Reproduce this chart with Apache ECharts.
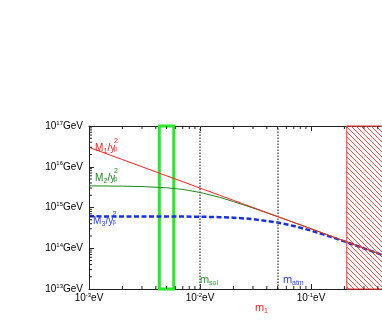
<!DOCTYPE html>
<html><head><meta charset="utf-8">
<script src="https://cdn.jsdelivr.net/npm/echarts@6/dist/echarts.min.js"></script>
<style>html,body{margin:0;padding:0;background:#fff}#c{width:382px;height:327px}</style>
</head><body><div id="c"></div>
<script>
// light neutrino mass m1 (eV)
const m1Values = [0.001,0.002,0.003,0.005,0.007,0.01,0.015,0.02,0.03,0.05,0.07,0.1,0.15,0.2,0.3,0.5,1];
// M_i / y^2 (GeV)
const M1Values = [3.0e16,1.5e16,1.0e16,6.0e15,4.3e15,3.0e15,2.0e15,1.5e15,1.0e15,6.0e14,4.3e14,3.0e14,2.0e14,1.5e14,1.0e14,6.0e13,3.0e13];
const M2Values = [3.4e15,3.34e15,3.27e15,3.05e15,2.78e15,2.34e15,1.78e15,1.4e15,9.7e14,5.96e14,4.29e14,3.02e14,2.0e14,1.5e14,1.0e14,6.0e13,3.0e13];
const M3Values = [6.06e14,6.05e14,6.04e14,6.0e14,5.98e14,5.94e14,5.8e14,5.62e14,5.2e14,4.29e14,3.52e14,2.71e14,1.92e14,1.47e14,9.96e13,6.03e13,3.03e13];
const mSol = 0.0089, mAtm = 0.05;
const boxRange = [0.0043, 0.0058];
const excludedFrom = 0.21;
const xTickExps = [-3,-2,-1,0];
const yTickExps = [13,14,15,16,17];
const xMinorTicks = [0.002,0.003,0.004,0.005,0.006,0.007,0.008,0.009,0.02,0.03,0.04,0.05,0.06,0.07,0.08,0.09,0.2,0.3,0.4,0.5,0.6,0.7,0.8,0.9];
const yMinorTicks = [2e13,3e13,4e13,5e13,6e13,7e13,8e13,9e13,2e14,3e14,4e14,5e14,6e14,7e14,8e14,9e14,2e15,3e15,4e15,5e15,6e15,7e15,8e15,9e15,2e16,3e16,4e16,5e16,6e16,7e16,8e16,9e16];

const XMIN = 0.001, XMAX = 1, YMIN = 1e13, YMAX = 1e17;
const FONT = '"Liberation Sans", Arial, sans-serif';

function pair(xs, ys){ return xs.map((x,i)=>[x, ys[i]]); }
function expOf(v){ return Math.round(Math.log10(v)); }

// hatch pattern
const pat = document.createElement('canvas');
pat.width = 5; pat.height = 5;
(function(){
  const g = pat.getContext('2d');
  g.strokeStyle = '#ff4a4a'; g.lineWidth = 1;
  g.beginPath();
  g.moveTo(-1,-1); g.lineTo(6,6);
  g.moveTo(-1,4); g.lineTo(1,6);
  g.moveTo(4,-1); g.lineTo(6,1);
  g.stroke();
})();

function txt(x, y, text, size, color){
  return {type:'text', x:x, y:y, silent:true, z:100,
    style:{text:text, font: size + 'px ' + FONT, fill:color, verticalAlign:'middle', align:'left'}};
}

const labelRich = {
  b:{fontSize:10, fontFamily:FONT, color:'#000', lineHeight:12},
  sup:{fontSize:6, fontFamily:FONT, color:'#000', verticalAlign:'top', lineHeight:7}
};

const chart = echarts.init(document.getElementById('c'), null, {renderer:'canvas'});
chart.setOption({
  animation:false,
  backgroundColor:'#fff',
  grid:{left:89, top:126, width:333, height:163, containLabel:false, outerBoundsMode:'none'},
  xAxis:[{
    type:'log', logBase:10, min:XMIN, max:XMAX, position:'bottom',
    axisLine:{show:true, lineStyle:{color:'#222', width:1}},
    axisTick:{show:true, inside:true, length:5, lineStyle:{color:'#222'}},
    minorTick:{show:false},
    splitLine:{show:false},
    axisLabel:{margin:3, formatter:function(v){ const e = expOf(v); return xTickExps.indexOf(e)>=0 ? '{b|10}{sup|' + (e<0?'-':'') + Math.abs(e) + '}{b|eV}' : ''; }, rich:labelRich}
  },{
    type:'log', logBase:10, min:XMIN, max:XMAX, position:'top',
    axisLine:{show:true, lineStyle:{color:'#222', width:1}},
    axisTick:{show:true, inside:true, length:5, lineStyle:{color:'#222'}},
    axisLabel:{show:false}, splitLine:{show:false}
  }],
  yAxis:[{
    type:'log', logBase:10, min:YMIN, max:YMAX,
    axisLine:{show:true, lineStyle:{color:'#222', width:1}},
    axisTick:{show:true, inside:true, length:5, lineStyle:{color:'#222'}},
    splitLine:{show:false},
    axisLabel:{margin:6, formatter:function(v){ const e = expOf(v); return yTickExps.indexOf(e)>=0 ? '{b|10}{sup|' + e + '}{b|GeV}' : ''; }, rich:labelRich}
  }],
  series:[
    {type:'line', name:'M3', data:pair(m1Values, M3Values), showSymbol:false, z:3,
      lineStyle:{color:'#1530e8', width:2.5, type:[5,2.5]},
      markArea:{silent:true, data:[
        [{xAxis:excludedFrom, yAxis:YMIN, itemStyle:{color:{image:pat, repeat:'repeat'}, borderColor:'#ff3030', borderWidth:1}},
         {xAxis:XMAX, yAxis:YMAX}],
        [{xAxis:boxRange[0], yAxis:YMIN, itemStyle:{color:'rgba(0,0,0,0)', borderColor:'#22ee22', borderWidth:3}},
         {xAxis:boxRange[1], yAxis:YMAX}]
      ]},
      markLine:{silent:true, symbol:['none','none'], label:{show:false},
        lineStyle:{color:'#555', type:'dotted', width:1.5},
        data:[{xAxis:mSol},{xAxis:mAtm}]}
    },
    {type:'line', name:'M2', data:pair(m1Values, M2Values), showSymbol:false, z:4,
      lineStyle:{color:'#1a8a1a', width:1}},
    {type:'line', name:'M1', data:pair(m1Values, M1Values), showSymbol:false, z:5,
      lineStyle:{color:'#ff2020', width:1}},
    {type:'custom', name:'xminor', data:xMinorTicks.map(v=>[v, YMIN]), silent:true, z:6,
      renderItem:function(params, api){
        const v = api.value(0);
        const b = api.coord([v, YMIN]), t = api.coord([v, YMAX]);
        return {type:'group', children:[
          {type:'line', shape:{x1:b[0], y1:b[1], x2:b[0], y2:b[1]-3}, style:{stroke:'#222', lineWidth:1}},
          {type:'line', shape:{x1:t[0], y1:t[1], x2:t[0], y2:t[1]+3}, style:{stroke:'#222', lineWidth:1}}
        ]};
      }},
    {type:'custom', name:'yminor', data:yMinorTicks.map(v=>[XMIN, v]), silent:true, z:6,
      renderItem:function(params, api){
        const v = api.value(1);
        const p = api.coord([XMIN, v]);
        return {type:'line', shape:{x1:p[0], y1:p[1], x2:p[0]+3, y2:p[1]}, style:{stroke:'#222', lineWidth:1}};
      }}
  ],
  graphic:[
    txt(95,148.5,'M',10,'#ff2020'), txt(103.5,151,'1',7,'#ff2020'), txt(107.5,148.5,'/y',10,'#ff2020'),
    txt(114,141.5,'2',7,'#ff2020'), txt(114,149.5,'β',6,'#ff2020'),
    txt(95,178.5,'M',10,'#1a8a1a'), txt(103.5,181,'2',7,'#1a8a1a'), txt(107.5,178.5,'/y',10,'#1a8a1a'),
    txt(114,171.5,'2',7,'#1a8a1a'), txt(114,179.5,'β',6,'#1a8a1a'),
    txt(93,221.5,'M',10,'#2a40e8'), txt(101.5,224,'3',7,'#2a40e8'), txt(105.5,221.5,'/y',10,'#2a40e8'),
    txt(112.5,214.5,'2',7,'#2a40e8'), txt(112.5,222.5,'β',6,'#2a40e8'),
    txt(200,279.5,'m',11,'#2a9a2a'), txt(209,283.5,'sol',7,'#2a9a2a'),
    txt(283,279.5,'m',11,'#2a40e8'), txt(292,283.5,'atm',7,'#2a40e8'),
    txt(255,308,'m',11,'#ff2020'), txt(264,311,'1',7,'#ff2020')
  ]
});
</script></body></html>
